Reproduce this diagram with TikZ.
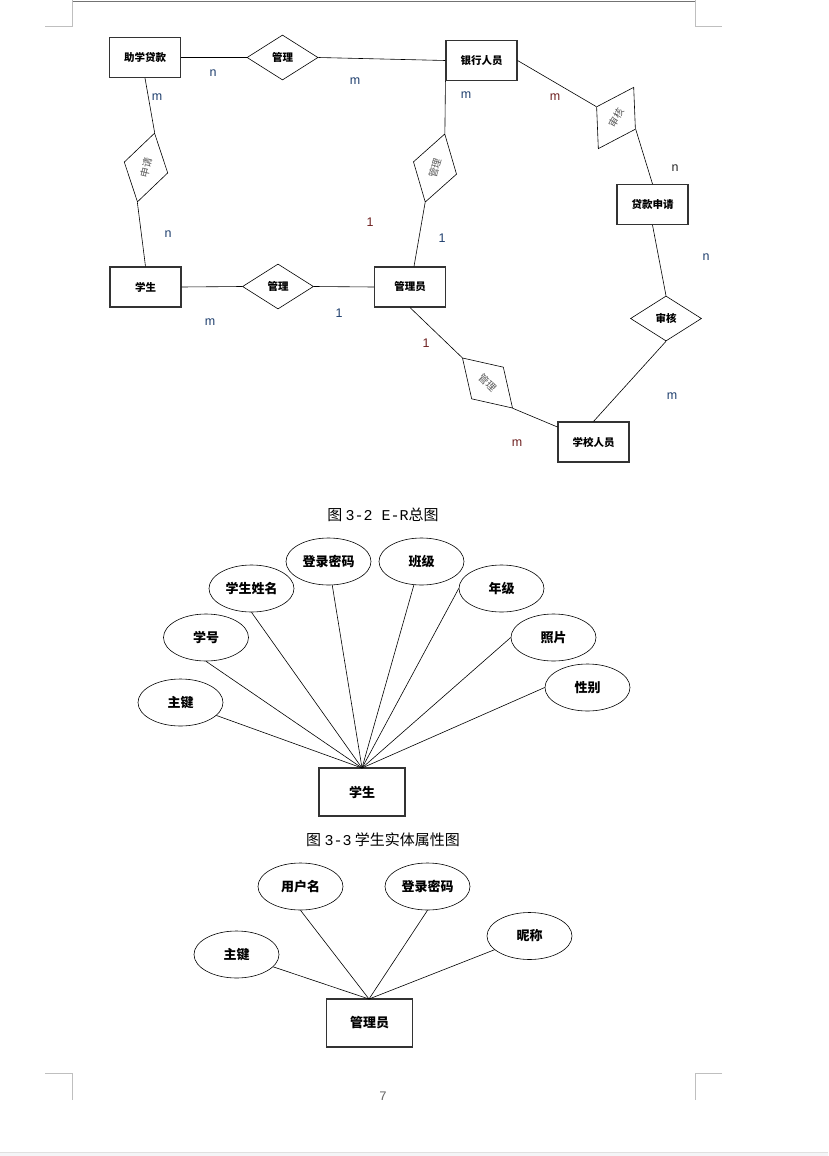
\documentclass[tikz,border=0pt]{standalone}
\usepackage{fontspec}
\setmainfont{Liberation Sans}
\newfontfamily\cjk{Noto Sans CJK SC}
\newfontfamily\monofnt{Liberation Mono}
\usetikzlibrary{shapes.geometric}
\definecolor{lblblue}{HTML}{1F3F6E}
\definecolor{lblred}{HTML}{6E2020}
\definecolor{cropgray}{HTML}{BFBFBF}
\definecolor{stripgray}{HTML}{F4F5F7}

\begin{document}
\begin{tikzpicture}[x=1pt, y=-1pt,
	entity/.style={draw=black!80, line width=1.1pt, minimum width=71pt, minimum height=40pt, inner sep=0pt, font=\cjk\bfseries\fontsize{10.5}{12}\selectfont},
	relation/.style={draw, shape=diamond, line width=0.6pt, minimum width=71pt, minimum height=45pt, inner sep=0pt, font=\cjk\bfseries\fontsize{10.5}{12}\selectfont},
	tilted/.style={relation, font=\cjk\fontsize{10}{12}\selectfont, text=black!65},
	card/.style={font=\fontsize{12.5}{14}\selectfont},
	attr/.style={draw, shape=ellipse, line width=0.6pt, minimum width=85pt, minimum height=47pt, inner sep=0pt, font=\cjk\bfseries\fontsize{13}{15}\selectfont},
	bigentity/.style={draw=black!80, line width=1.1pt, minimum width=86pt, minimum height=48pt, inner sep=0pt, font=\cjk\bfseries\fontsize{13}{15}\selectfont},
	link/.style={line width=0.6pt},
	cropline/.style={draw=cropgray, line width=0.8pt},
	caption/.style={font=\cjk\fontsize{15}{17}\selectfont}]
	% Page and crop marks:
	\fill[white] (0, 0) rectangle (828, 1156);
	\useasboundingbox (0, 0) rectangle (828, 1156);
	\fill[stripgray] (0, 1152) rectangle (828, 1156);
	\draw[draw=black!12, line width=0.8pt] (0, 1152) -- (828, 1152);
	\draw[draw=black!55, line width=0.9pt] (72, 1.2) -- (695, 1.2);
	\draw[cropline] (72, 0) -- (72, 26) -- (45, 26);
	\draw[cropline] (695, 0) -- (695, 26) -- (722, 26);
	\draw[cropline] (45, 1073) -- (72, 1073) -- (72, 1100);
	\draw[cropline] (722, 1073) -- (695, 1073) -- (695, 1100);
	\node[text=black!60, font=\monofnt\fontsize{13}{14}\selectfont] (pageno) at (383, 1096){7};

	% E-R overview:
	\node[entity] (aid) at (145, 57.5){助学贷款};
	\node[entity] (bank) at (481.5, 60.5){银行人员};
	\node[entity] (loan) at (652.5, 204.5){贷款申请};
	\node[entity] (stu) at (145.5, 287){学生};
	\node[entity] (adm) at (410, 287){管理员};
	\node[entity] (school) at (593.5, 442){学校人员};
	\node[relation] (mgtop) at (282.5, 57.5){管理};
	\node[relation] (mgbot) at (278, 286.5){管理};
	\node[relation] (chklow) at (666, 318.5){审核};
	\node[tilted, rotate=76] (apply) at (146, 167.5){申请};
	\node[tilted, rotate=74] (mgmid) at (435, 168){管理};
	\node[tilted, rotate=60] (chkup) at (616, 118){审核};
	\node[tilted, rotate=-45] (mgdiag) at (487.5, 383){管理};
	\draw[link] (aid.east) -- (mgtop.west);
	\draw[link] (mgtop.east) -- (bank.west);
	\draw[link] (aid.south) -- (apply.east);
	\draw[link] (apply.west) -- (stu.north);
	\draw[link] (bank.south west) -- (mgmid.east);
	\draw[link] (mgmid.west) -- ([xshift=4pt]adm.north);
	\draw[link] (bank.east) -- (chkup.north);
	\draw[link] (chkup.south) -- (loan.north);
	\draw[link] (loan.south) -- (chklow.north);
	\draw[link] (chklow.south) -- (school.north);
	\draw[link] (stu.east) -- (mgbot.west);
	\draw[link] (mgbot.east) -- (adm.west);
	\draw[link] (adm.south) -- (mgdiag.west);
	\draw[link] (mgdiag.east) -- ([yshift=15pt]school.west);
	% Cardinalities:
	\node[card, text=lblblue] (c1) at (213, 73){n};
	\node[card, text=lblblue] (c2) at (355, 81){m};
	\node[card, text=lblblue] (c3) at (157, 97){m};
	\node[card, text=lblblue] (c4) at (466, 95){m};
	\node[card, text=lblred] (c5) at (555, 97){m};
	\node[card, text=black!85] (c6) at (675, 168){n};
	\node[card, text=lblblue] (c7) at (706, 257){n};
	\node[card, text=lblred] (c8) at (370, 222){1};
	\node[card, text=lblblue] (c9) at (442, 238){1};
	\node[card, text=lblblue] (c10) at (168, 234){n};
	\node[card, text=lblblue] (c11) at (210, 322){m};
	\node[card, text=lblblue] (c12) at (339, 313){1};
	\node[card, text=lblred] (c13) at (426, 343){1};
	\node[card, text=lblblue] (c14) at (672, 396){m};
	\node[card, text=lblred] (c15) at (517, 443){m};
	\node[caption] (cap1) at (383, 515){图 {\monofnt 3-2 E-R}总图};

	% Student attributes:
	\node[bigentity] (stuent) at (362, 792){学生};
	\coordinate (stutop) at (362, 768);
	\node[attr] (skey) at (180.5, 702.5){主键};
	\node[attr] (sno) at (206, 637.5){学号};
	\node[attr] (sname) at (251.5, 588.5){学生姓名};
	\node[attr] (spwd) at (328.5, 561.5){登录密码};
	\node[attr] (sclass) at (421.5, 561.5){班级};
	\node[attr] (sgrade) at (501.5, 588.5){年级};
	\node[attr] (sphoto) at (553.5, 637.5){照片};
	\node[attr] (ssex) at (587.5, 687.5){性别};
	\draw[link] (skey) -- (stutop);
	\draw[link] (sno.south) -- (stutop);
	\draw[link] (sname.south) -- (stutop);
	\draw[link] (spwd.-81) -- (stutop);
	\draw[link] (sclass.-108) -- (stutop);
	\draw[link] (sgrade.west) -- (stutop);
	\draw[link] (sphoto.west) -- (stutop);
	\draw[link] (ssex.west) -- (stutop);
	\node[caption] (cap2) at (383, 840){图 {\monofnt 3-3} 学生实体属性图};

	% Administrator attributes:
	\node[bigentity] (adment) at (369.5, 1023){管理员};
	\coordinate (admtop) at (369, 999);
	\node[attr] (akey) at (236.5, 954.5){主键};
	\node[attr] (auser) at (300.5, 886.5){用户名};
	\node[attr] (apwd) at (427.5, 886.5){登录密码};
	\node[attr] (anick) at (529.5, 936){昵称};
	\draw[link] (akey) -- (admtop);
	\draw[link] (auser.south) -- (admtop);
	\draw[link] (apwd.south) -- (admtop);
	\draw[link] (anick) -- (admtop);
\end{tikzpicture}
\end{document}
